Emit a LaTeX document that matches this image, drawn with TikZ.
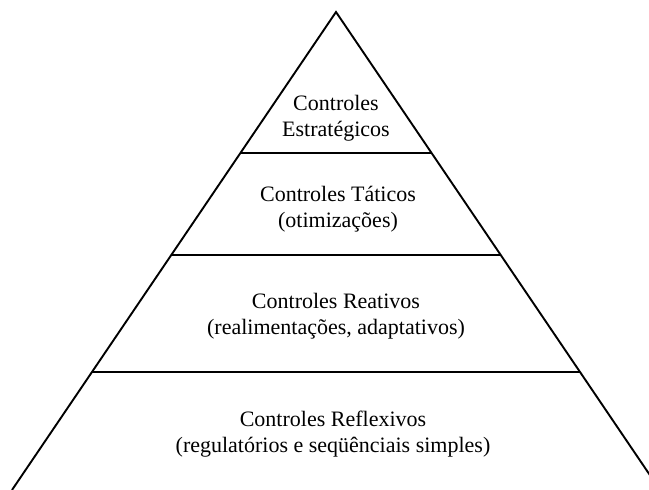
\documentclass[tikz,border=0pt]{standalone}
\usepackage{fontspec}
\setmainfont{Liberation Serif}
\usetikzlibrary{calc}
\tikzset{rotulo/.style={align=center,inner sep=0pt,font=\fontsize{22}{26}\selectfont}}
\begin{document}
\begin{tikzpicture}[x=1pt,y=1pt,line width=1.9pt]
	\useasboundingbox (0,0) rectangle (649,490);
	\clip (0,0) rectangle (649,490);
	\coordinate (topo) at (336,478);\coordinate (esq) at (12,0);\coordinate (dir) at (660,0);
	\draw (esq)--(topo)--(dir);
	\foreach \t in {0.2956,0.5084,0.7525}
		\draw ($(topo)!\t!(esq)$)--($(topo)!\t!(dir)$);
	\node[rotulo] (estrategicos) at (336,372) {Controles\\Estratégicos};
	\node[rotulo] (taticos) at (338,281) {Controles Táticos\\(otimizações)};
	\node[rotulo] (reativos) at (336,174) {Controles Reativos\\(realimentações, adaptativos)};
	\node[rotulo] (reflexivos) at (333,56) {Controles Reflexivos\\(regulatórios e seqüênciais simples)};
\end{tikzpicture}
\end{document}
